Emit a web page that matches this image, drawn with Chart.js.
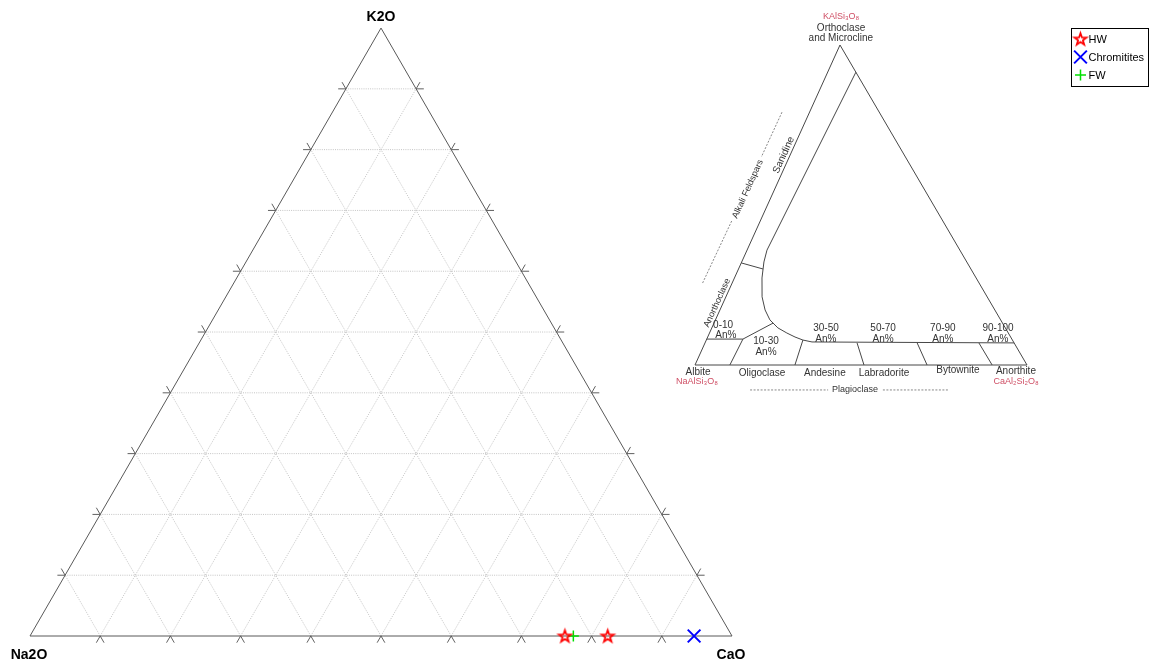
<!DOCTYPE html>
<html>
<head>
<meta charset="utf-8">
<script src="https://cdn.jsdelivr.net/npm/chart.js@4.4.1/dist/chart.umd.min.js"></script>
<style>
  html, body { margin: 0; padding: 0; background: #ffffff; }
  #wrap { width: 1169px; height: 666px; }
</style>
</head>
<body>
<div id="wrap"><canvas id="c" width="1169" height="666"></canvas></div>
<script>
// ---------- sample compositions (normalised wt%: Na2O, CaO, K2O) ----------
const seriesNames = ['HW', 'Chromitites', 'FW'];
const hwNa2O = [23.8, 17.7];
const hwCaO  = [76.2, 82.3];
const hwK2O  = [0.0, 0.0];
const chromNa2O = [5.4];
const chromCaO  = [94.6];
const chromK2O  = [0.0];
const fwNa2O = [22.6];
const fwCaO  = [77.4];
const fwK2O  = [0.0];

// apex names (top, left, right) and grid steps in %
const apexNames = ['K2O', 'Na2O', 'CaO'];
const gridSteps = [10, 20, 30, 40, 50, 60, 70, 80, 90];

// ---------- feldspar classification (mol% An, Or) ----------
const fsSanidineAn = [8.5, 6.0, 6.7, 8.3, 10.9, 13.6, 16.4, 19.9, 23.3, 26.3, 29.1, 32.1, 93.1];
const fsSanidineOr = [91.5, 35.9, 32.2, 27.2, 21.3, 17.2, 14.1, 11.6, 10.0, 8.75, 7.8, 7.2, 6.9];
const fsAnorthoclaseAn = [0, 7.4];
const fsAnorthoclaseOr = [31.9, 30.0];
const fsAlbiteTopAn = [0, 10.9, 17.8];
const fsAlbiteTopOr = [8.1, 8.1, 13.1];
// plagioclase dividers: upper end (An, Or) -> lower end on Ab–An join (An)
const fsDivTopAn = [10.9, 29.1, 45.8, 63.9, 82.5];
const fsDivTopOr = [8.1, 7.8, 6.9, 6.9, 6.9];
const fsDivBaseAn = [10.5, 30.1, 50.9, 69.9, 89.5];

const fsLabelText = [
  'KAlSi\u2083O\u2088', 'Orthoclase', 'and Microcline',
  'Alkali Feldspars', 'Sanidine', 'Anorthoclase',
  '0-10', 'An%', '10-30', 'An%', '30-50', 'An%', '50-70', 'An%', '70-90', 'An%', '90-100', 'An%',
  'Albite', 'Oligoclase', 'Andesine', 'Labradorite', 'Bytownite', 'Anorthite',
  'NaAlSi\u2083O\u2088', 'CaAl\u2082Si\u2082O\u2088', 'Plagioclase'
];

// ---------- layout ----------
const W = 1169, H = 666;
const MAIN = { left: 30, base: 636, side: 702 };
const INSET = { left: 695, base: 365, width: 332, height: 320, skew: 0.4367 };
const SQ = Math.sqrt(3) / 2;
const TICK = 0.011;

// label anchors in (An, Or) and styling
const fsLabelAt = [
  [-3.5, 108.8], [-2.0, 105.3], [-0.7, 102.2],
  [-8.1, 55.0], [-1.9, 65.6], [-1.8, 19.4],
  [3.0, 12.5], [5.2, 9.4], [18.1, 7.5], [19.6, 4.1], [34.4, 11.6], [35.9, 8.1],
  [51.6, 11.6], [53.1, 8.1], [69.6, 11.6], [71.1, 8.1], [86.2, 11.6], [87.7, 8.1],
  [1.9, -2.2], [21.3, -2.5], [40.2, -2.5], [58.0, -2.5], [79.9, -1.6], [97.5, -1.9],
  [2.9, -5.3], [99.0, -5.3], [51.6, -7.8]
];
const fsLabelKind = [
  'red', 'n', 'n',
  'rot-s', 'rot', 'rot-s',
  'n', 'n', 'n', 'n', 'n', 'n', 'n', 'n', 'n', 'n', 'n', 'n',
  'n', 'n', 'n', 'n', 'n', 'n',
  'red', 'red', 'small'
];

// ---------- projections ----------
function tern(na, ca, k) {
  const s = na + ca + k;
  return { x: (ca + k / 2) / s, y: (k * SQ) / s };
}
function fsPt(an, or) {
  return { x: an / 100 + INSET.skew * or / 100, y: or / 100 };
}

// ---------- marker images ----------
function makePentagram(r, color, lw) {
  const c = document.createElement('canvas');
  const s = Math.ceil(2 * r + 2 * lw + 2);
  c.width = s; c.height = s;
  const g = c.getContext('2d');
  g.translate(s / 2, s / 2 + 0.5);
  g.beginPath();
  for (let i = 0; i < 10; i++) {
    const rad = i % 2 ? r * 0.4 : r;
    const a = -Math.PI / 2 + i * Math.PI / 5;
    g.lineTo(rad * Math.cos(a), rad * Math.sin(a));
  }
  g.closePath();
  g.lineJoin = 'miter';
  g.strokeStyle = color;
  g.lineWidth = lw;
  g.stroke();
  return c;
}
const starImg = makePentagram(6.3, '#ff0000', 1.8);

// ---------- datasets ----------
const dataSeries = [
  { label: seriesNames[0], data: hwNa2O.map((v, i) => tern(v, hwCaO[i], hwK2O[i])),
    pointStyle: starImg, pointRadius: 6, borderColor: '#ff0000', backgroundColor: '#ff0000',
    pointBorderWidth: 1.8, showLine: false, order: 0, isSeries: true },
  { label: seriesNames[1], data: chromNa2O.map((v, i) => tern(v, chromCaO[i], chromK2O[i])),
    pointStyle: 'crossRot', pointRadius: 9, borderColor: '#0000ff', backgroundColor: '#0000ff',
    pointBorderWidth: 2, showLine: false, order: 0, isSeries: true },
  { label: seriesNames[2], data: fwNa2O.map((v, i) => tern(v, fwCaO[i], fwK2O[i])),
    pointStyle: 'cross', pointRadius: 5.5, borderColor: '#00e000', backgroundColor: '#00e000',
    pointBorderWidth: 1.5, showLine: false, order: 0, isSeries: true }
];

function seg(points, style, order, inset) {
  return Object.assign({
    data: points, showLine: true, pointRadius: 0, pointHoverRadius: 0,
    borderWidth: 1, fill: false, order: order, tension: 0,
    xAxisID: inset ? 'xi' : 'x', yAxisID: inset ? 'yi' : 'y'
  }, style);
}

const frameStyle = { borderColor: '#595959' };
const gridStyle = { borderColor: '#c4c4c4', borderDash: [1, 1.2] };
const tickStyle = { borderColor: '#606060' };
const structure = [];

// triangle frame
structure.push(seg([tern(100, 0, 0), tern(0, 100, 0), tern(0, 0, 100), tern(100, 0, 0)], frameStyle, 2));

// grid lines with outward ticks at both ends
gridSteps.forEach(p => {
  const f = p / 100;
  const lines = [
    [[1 - f, 0, f], [0, 1 - f, f]],   // constant K2O
    [[1 - f, f, 0], [0, f, 1 - f]],   // constant CaO
    [[f, 1 - f, 0], [f, 0, 1 - f]]    // constant Na2O
  ];
  lines.forEach(([A, B]) => {
    structure.push(seg([tern(...A), tern(...B)], gridStyle, 4));
    const L = 1 - f;
    const ext = (P, Q) => P.map((v, i) => v + (v - Q[i]) * TICK / L);
    structure.push(seg([tern(...A), tern(...ext(A, B))], tickStyle, 3));
    structure.push(seg([tern(...B), tern(...ext(B, A))], tickStyle, 3));
  });
});

// feldspar diagram lines
const fsLine = { borderColor: '#474747', borderWidth: 1 };
const fsGuide = { borderColor: '#6a6a6a', borderWidth: 0.8, borderDash: [2, 1.5] };
structure.push(seg([fsPt(0, 0), fsPt(100, 0), fsPt(0, 100), fsPt(0, 0)], fsLine, 5, true));
structure.push(seg(fsSanidineAn.map((a, i) => fsPt(a, fsSanidineOr[i])), fsLine, 5, true));
structure.push(seg(fsAnorthoclaseAn.map((a, i) => fsPt(a, fsAnorthoclaseOr[i])), fsLine, 5, true));
structure.push(seg(fsAlbiteTopAn.map((a, i) => fsPt(a, fsAlbiteTopOr[i])), fsLine, 5, true));
fsDivTopAn.forEach((a, i) => {
  structure.push(seg([fsPt(a, fsDivTopOr[i]), fsPt(fsDivBaseAn[i], 0)], fsLine, 5, true));
});
// dashed guides beside the Alkali Feldspars and Plagioclase captions
structure.push(seg([fsPt(-8.3, 79), fsPt(-8.4, 65)], fsGuide, 5, true));
structure.push(seg([fsPt(-8.6, 45), fsPt(-8.9, 25.5)], fsGuide, 5, true));
structure.push(seg([fsPt(20, -7.8), fsPt(43.5, -7.8)], fsGuide, 5, true));
structure.push(seg([fsPt(60, -7.8), fsPt(79.6, -7.8)], fsGuide, 5, true));

// ---------- text and legend ----------
const FONT = '"Liberation Sans", Arial, Helvetica, sans-serif';

const textPlugin = {
  id: 'ternaryText',
  afterDraw(chart) {
    const ctx = chart.ctx;
    const sx = chart.scales.x, sy = chart.scales.y, xi = chart.scales.xi, yi = chart.scales.yi;
    const px = p => [sx.getPixelForValue(p.x), sy.getPixelForValue(p.y)];
    ctx.save();
    ctx.textAlign = 'center';
    ctx.textBaseline = 'middle';
    ctx.fillStyle = '#000';
    ctx.font = 'bold 14px ' + FONT;
    const top = px(tern(0, 0, 100)), lft = px(tern(100, 0, 0)), rgt = px(tern(0, 100, 0));
    ctx.fillText(apexNames[0], top[0], top[1] - 11);
    ctx.fillText(apexNames[1], lft[0] - 1, lft[1] + 19);
    ctx.fillText(apexNames[2], rgt[0] - 1, rgt[1] + 19);

    // feldspar captions
    const ab = fsPt(0, 0), or = fsPt(0, 100);
    const edgeAng = Math.atan2(yi.getPixelForValue(or.y) - yi.getPixelForValue(ab.y),
                               xi.getPixelForValue(or.x) - xi.getPixelForValue(ab.x));
    fsLabelText.forEach((t, i) => {
      const p = fsPt(fsLabelAt[i][0], fsLabelAt[i][1]);
      const x = xi.getPixelForValue(p.x), y = yi.getPixelForValue(p.y);
      const kind = fsLabelKind[i];
      ctx.save();
      ctx.translate(x, y);
      if (kind.startsWith('rot')) ctx.rotate(edgeAng);
      ctx.fillStyle = kind === 'red' ? '#cf5066' : '#333333';
      const size = kind === 'red' ? 9 : (kind === 'small' || kind === 'rot-s') ? 9 : 10;
      ctx.font = size + 'px ' + FONT;
      ctx.fillText(t, 0, 0);
      ctx.restore();
    });

    // legend
    const series = chart.data.datasets.filter(d => d.isSeries);
    const bx = 1071.5, by = 28.5, bw = 77, bh = 58, rowH = 18;
    ctx.fillStyle = '#fff';
    ctx.fillRect(bx, by, bw, bh);
    ctx.strokeStyle = '#000';
    ctx.lineWidth = 1;
    ctx.strokeRect(bx, by, bw, bh);
    ctx.font = '11px ' + FONT;
    ctx.textAlign = 'left';
    series.forEach((d, i) => {
      const cy = by + 10.5 + i * rowH, cx = bx + 9;
      ctx.save();
      ctx.strokeStyle = d.borderColor;
      ctx.fillStyle = d.backgroundColor;
      ctx.lineWidth = d.pointBorderWidth;
      Chart.helpers.drawPoint(ctx, {
        pointStyle: d.pointStyle, rotation: 0, radius: d.pointRadius, borderWidth: d.pointBorderWidth
      }, cx, cy);
      ctx.restore();
      ctx.fillStyle = '#000';
      ctx.fillText(d.label, bx + 17, cy + 0.5);
    });
    ctx.restore();
  }
};

new Chart(document.getElementById('c'), {
  type: 'scatter',
  data: { datasets: dataSeries.concat(structure) },
  options: {
    responsive: false,
    animation: false,
    devicePixelRatio: 1,
    layout: { padding: 0, autoPadding: false },
    plugins: { legend: { display: false }, tooltip: { enabled: false } },
    events: [],
    scales: {
      x: { type: 'linear', display: false,
           min: -MAIN.left / MAIN.side, max: (W - MAIN.left) / MAIN.side },
      y: { type: 'linear', display: false,
           min: -(H - MAIN.base) / MAIN.side, max: MAIN.base / MAIN.side },
      xi: { type: 'linear', display: false, position: 'bottom',
            min: -INSET.left / INSET.width, max: (W - INSET.left) / INSET.width },
      yi: { type: 'linear', display: false, position: 'left',
            min: -(H - INSET.base) / INSET.height, max: INSET.base / INSET.height }
    }
  },
  plugins: [textPlugin]
});
</script>
</body>
</html>
